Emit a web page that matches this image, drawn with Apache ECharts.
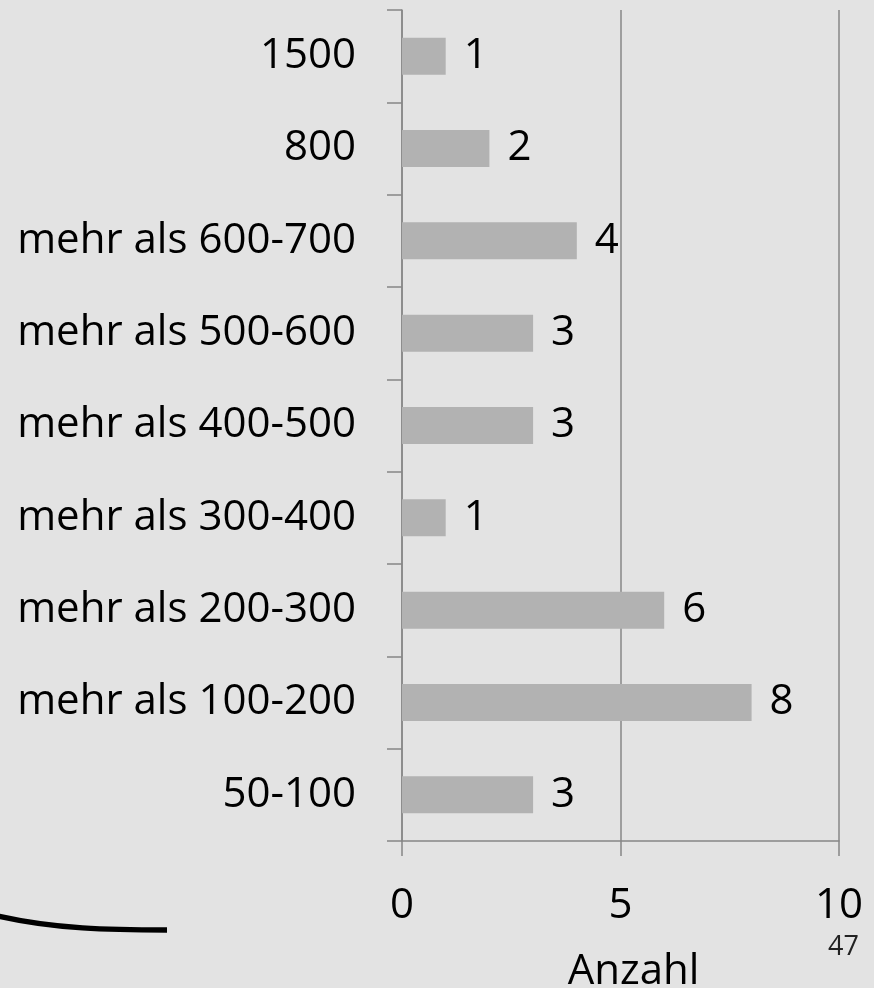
<!DOCTYPE html>
<html>
<head>
<meta charset="utf-8">
<script src="https://cdn.jsdelivr.net/npm/echarts@6/dist/echarts.min.js"></script>
<style>
  html, body { margin: 0; padding: 0; background: #e3e3e3; }
  #chart { width: 874px; height: 988px; }
</style>
</head>
<body>
<div id="chart"></div>
<script>
// Spending classes, listed from the bottom of the axis upwards
const categories = [
  '50-100',
  'mehr als 100-200',
  'mehr als 200-300',
  'mehr als 300-400',
  'mehr als 400-500',
  'mehr als 500-600',
  'mehr als 600-700',
  '800',
  '1500'
];
// Number of answers per class
const counts = [3, 8, 6, 1, 3, 3, 4, 2, 1];
const xTicks = [0, 5, 10];
const axisName = 'Anzahl';
const pageNumber = '47';

const FONT = '"Open Sans", sans-serif';
const AXIS_GREY = '#878787';

const chart = echarts.init(document.getElementById('chart'), null, { renderer: 'canvas' });

chart.setOption({
  backgroundColor: '#e3e3e3',
  animation: false,
  textStyle: { fontFamily: FONT },
  grid: {
    left: 402, right: 35, top: 10, bottom: 147,
    containLabel: false,
    outerBoundsMode: 'none'
  },
  xAxis: {
    type: 'value',
    min: xTicks[0],
    max: xTicks[xTicks.length - 1],
    interval: xTicks[1] - xTicks[0],
    name: axisName,
    nameLocation: 'middle',
    nameGap: 110,
    nameTextStyle: {
      fontFamily: FONT, fontSize: 42, color: '#000', lineHeight: 42,
      padding: [0, 0, 0, 26]
    },
    axisLine: { show: true, lineStyle: { color: AXIS_GREY, width: 1.5 } },
    axisTick: { show: true, inside: false, length: 15, lineStyle: { color: AXIS_GREY, width: 1.5 } },
    axisLabel: { fontFamily: FONT, fontSize: 42, color: '#000', margin: 44, lineHeight: 42 },
    splitLine: { show: true, lineStyle: { color: AXIS_GREY, width: 1.5 } }
  },
  yAxis: {
    type: 'category',
    data: categories,
    axisLine: { show: true, lineStyle: { color: AXIS_GREY, width: 1.5 } },
    axisTick: { show: true, inside: false, length: 15, lineStyle: { color: AXIS_GREY, width: 1.5 } },
    axisLabel: { fontFamily: FONT, fontSize: 42, color: '#000', margin: 46, lineHeight: 42, padding: [4, 0, 0, 0] },
    splitLine: { show: false }
  },
  series: [{
    type: 'bar',
    data: counts,
    barWidth: 37,
    itemStyle: { color: '#b2b2b2' },
    label: {
      show: true,
      position: 'right',
      distance: 18,
      fontFamily: FONT,
      fontSize: 42,
      color: '#000',
      padding: [4, 0, 0, 0]
    }
  }],
  graphic: [
    {
      type: 'bezierCurve',
      shape: { x1: -2, y1: 916, cpx1: 55, cpy1: 929, cpx2: 110, cpy2: 930, x2: 167, y2: 930 },
      style: { stroke: '#000', lineWidth: 5.5, fill: null }
    },
    {
      type: 'text',
      left: 828,
      top: 934,
      style: { text: pageNumber, font: '27px "Open Sans", sans-serif', fill: '#222' }
    }
  ]
});
</script>
</body>
</html>
